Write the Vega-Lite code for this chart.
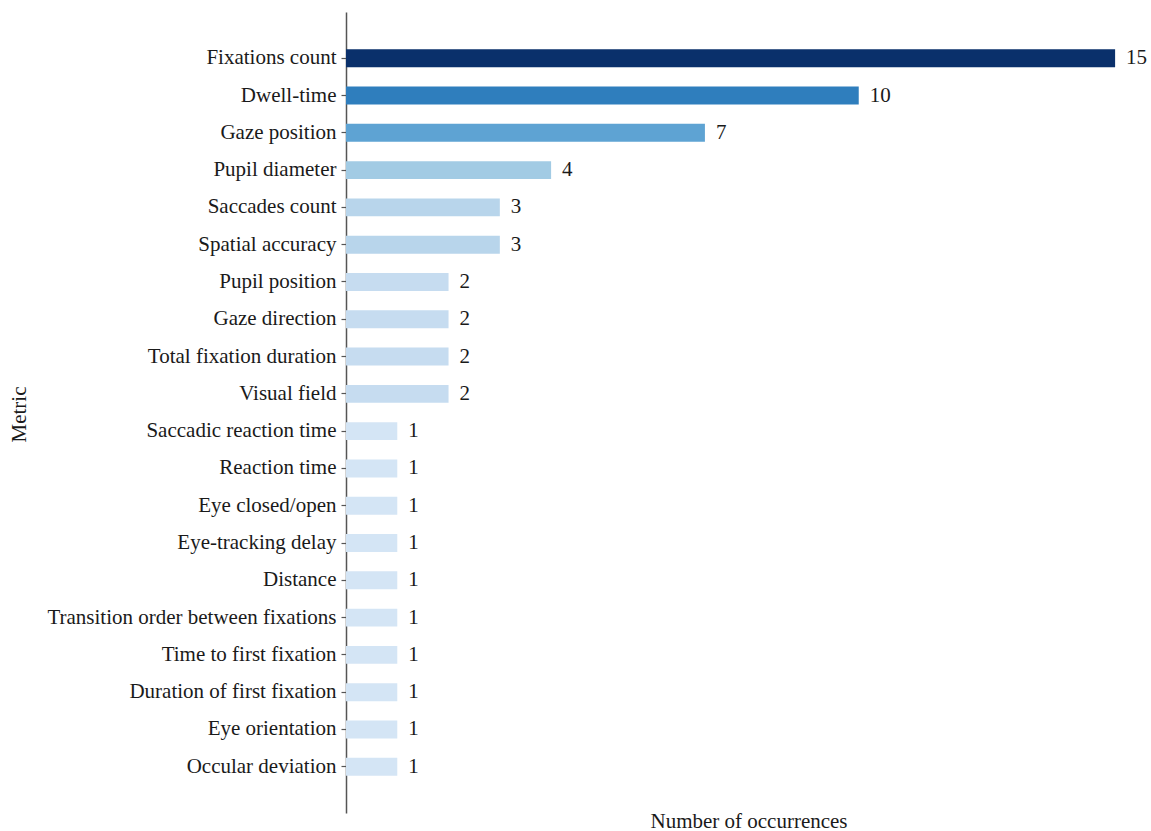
{
  "$schema": "https://vega.github.io/schema/vega-lite/v6.json",
  "width": 805,
  "height": 801,
  "autosize": {"type": "none"},
  "padding": {"left": 346, "top": 12, "right": 0, "bottom": 18},
  "background": "white",
  "config": {"view": {"stroke": null}, "font": "Liberation Serif"},
  "data": {"values": [
    {"Metric": "Fixations count", "Count": 15},
    {"Metric": "Dwell-time", "Count": 10},
    {"Metric": "Gaze position", "Count": 7},
    {"Metric": "Pupil diameter", "Count": 4},
    {"Metric": "Saccades count", "Count": 3},
    {"Metric": "Spatial accuracy", "Count": 3},
    {"Metric": "Pupil position", "Count": 2},
    {"Metric": "Gaze direction", "Count": 2},
    {"Metric": "Total fixation duration", "Count": 2},
    {"Metric": "Visual field", "Count": 2},
    {"Metric": "Saccadic reaction time", "Count": 1},
    {"Metric": "Reaction time", "Count": 1},
    {"Metric": "Eye closed/open", "Count": 1},
    {"Metric": "Eye-tracking delay", "Count": 1},
    {"Metric": "Distance", "Count": 1},
    {"Metric": "Transition order between fixations", "Count": 1},
    {"Metric": "Time to first fixation", "Count": 1},
    {"Metric": "Duration of first fixation", "Count": 1},
    {"Metric": "Eye orientation", "Count": 1},
    {"Metric": "Occular deviation", "Count": 1}
  ]},
  "encoding": {
    "y": {
      "field": "Metric", "type": "nominal", "sort": null,
      "scale": {"paddingInner": 0.52, "paddingOuter": 1.0},
      "axis": {
        "title": "Metric",
        "titleFont": "Liberation Serif", "titleFontSize": 21, "titleFontWeight": "normal", "titleColor": "#1a1a1a",
        "titleAngle": -90, "titleX": -327, "titleY": 402, "titleAlign": "center", "titleBaseline": "middle",
        "labelFont": "Liberation Serif", "labelFontSize": 21, "labelColor": "#1a1a1a",
        "labelPadding": 5, "tickSize": 5, "tickColor": "#555", "tickWidth": 1.2,
        "domainColor": "#555", "domainWidth": 1.5, "grid": false, "labelLimit": 400
      }
    },
    "x": {
      "field": "Count", "type": "quantitative",
      "scale": {"domain": [0, 15.7], "nice": false},
      "axis": {
        "title": "Number of occurrences",
        "titleFont": "Liberation Serif", "titleFontSize": 21, "titleFontWeight": "normal", "titleColor": "#1a1a1a",
        "titlePadding": 0, "titleY": 8, "titleBaseline": "middle",
        "labels": false, "ticks": false, "domain": false, "grid": false
      }
    }
  },
  "layer": [
    {
      "mark": {"type": "bar"},
      "encoding": {
        "color": {
          "field": "Count", "type": "ordinal", "legend": null,
          "scale": {"domain": [1, 2, 3, 4, 7, 10, 15],
                    "range": ["#d4e5f5", "#c6dcf0", "#b8d5eb", "#a2cbe4", "#5ea3d3", "#2f7ebd", "#0a306b"]}
        }
      }
    },
    {
      "mark": {"type": "text", "align": "left", "baseline": "middle", "dx": 11, "font": "Liberation Serif", "fontSize": 21, "color": "#1a1a1a"},
      "encoding": {"text": {"field": "Count", "type": "quantitative"}}
    }
  ]
}
